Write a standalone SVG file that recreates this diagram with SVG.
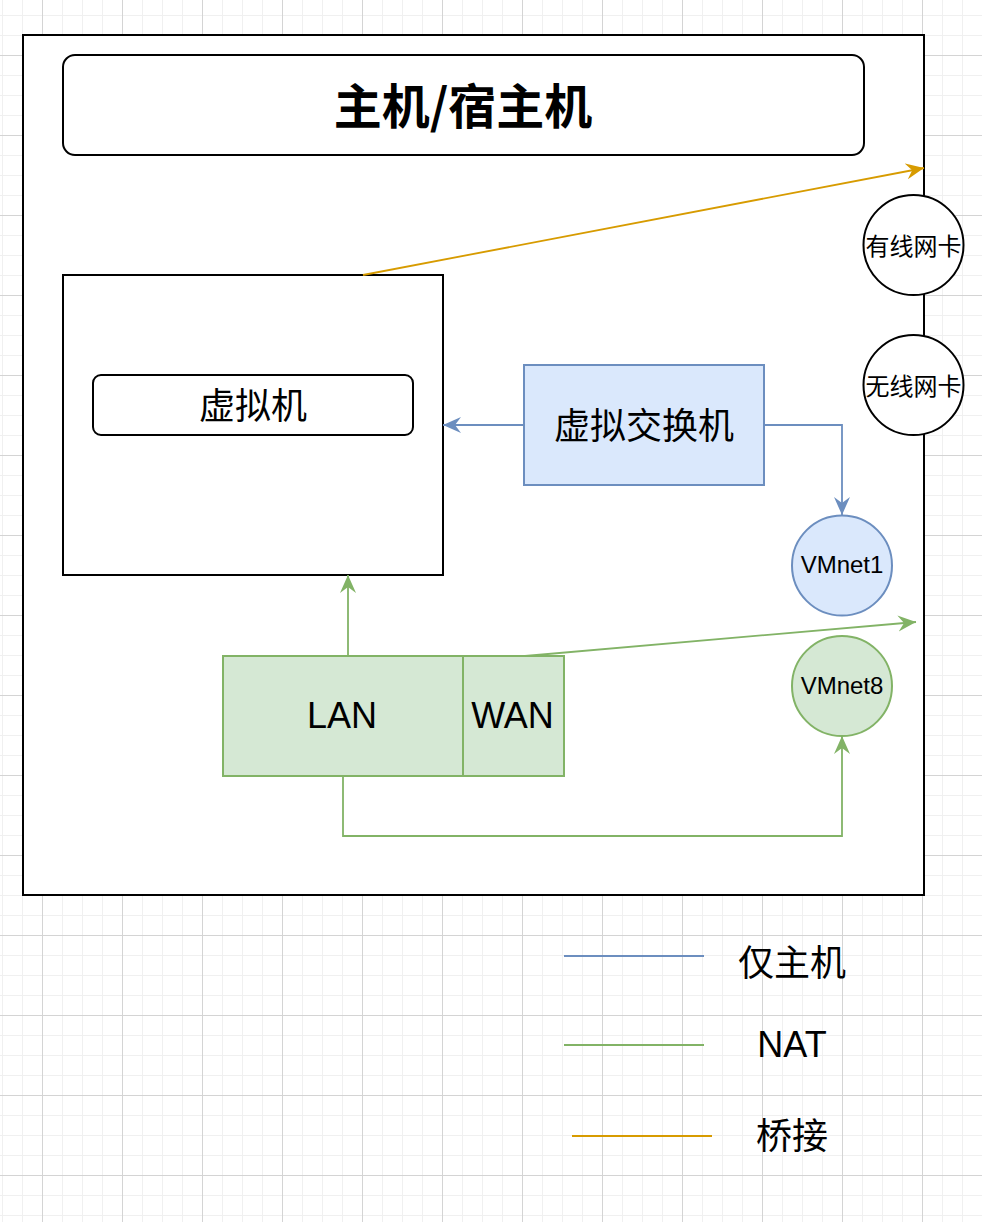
<svg xmlns="http://www.w3.org/2000/svg" width="982" height="1222" viewBox="0 0 982 1222">
<style>
.cjk{font-family:"Noto Sans CJK SC","Liberation Sans",sans-serif;fill:#000}
.lat{font-family:"Liberation Sans","Noto Sans CJK SC",sans-serif;fill:#000}
.blk{fill:#fff;stroke:#000;stroke-width:2}
.blue{fill:#dae8fc;stroke:#6c8ebf;stroke-width:2}
.green{fill:#d5e8d4;stroke:#82b366;stroke-width:2}
.cb{fill:none;stroke:#6c8ebf;stroke-width:1.8}
.cg{fill:none;stroke:#82b366;stroke-width:1.8}
.co{fill:none;stroke:#d79b00;stroke-width:1.8}
</style>
<defs>
<pattern id="grid" patternUnits="userSpaceOnUse" x="2" y="15" width="80" height="80">
<path d="M0.5 0V80M20.5 0V80M60.5 0V80M0 0.5H80M0 20.5H80M0 60.5H80" stroke="#f0f0f0" stroke-width="1" fill="none"/>
<path d="M40.5 0V80M0 40.5H80" stroke="#d4d4d4" stroke-width="1" fill="none"/>
</pattern>
<marker id="ab" markerUnits="userSpaceOnUse" viewBox="0 0 19 18" refX="18" refY="9" markerWidth="19" markerHeight="18" orient="auto"><path d="M18 9L0 1L6 9L0 17Z" fill="#6c8ebf"/></marker>
<marker id="ag" markerUnits="userSpaceOnUse" viewBox="0 0 19 18" refX="18" refY="9" markerWidth="19" markerHeight="18" orient="auto"><path d="M18 9L0 1L6 9L0 17Z" fill="#82b366"/></marker>
<marker id="ao" markerUnits="userSpaceOnUse" viewBox="0 0 19 18" refX="18" refY="9" markerWidth="19" markerHeight="18" orient="auto"><path d="M18 9L0 1L6 9L0 17Z" fill="#d79b00"/></marker>
</defs>
<rect width="982" height="1222" fill="#fff"/>
<rect width="982" height="1222" fill="url(#grid)"/>

<g id="host"><rect class="blk" x="23" y="35" width="901" height="860"/></g>
<g id="title"><rect class="blk" x="63" y="55" width="801" height="100" rx="12"/>
<text class="cjk" x="463" y="103" font-size="48" font-weight="bold" text-anchor="middle" dominant-baseline="central">主机/宿主机</text></g>
<g id="vm-box"><rect class="blk" x="63" y="275" width="380" height="300"/></g>
<g id="vm"><rect class="blk" x="93" y="375" width="320" height="60" rx="8"/>
<text class="cjk" x="253" y="403" font-size="36" text-anchor="middle" dominant-baseline="central">虚拟机</text></g>
<g id="vswitch"><rect class="blue" x="524" y="365" width="240" height="120"/>
<text class="cjk" x="644" y="423" font-size="36" text-anchor="middle" dominant-baseline="central">虚拟交换机</text></g>
<g id="nic-wired"><circle class="blk" cx="913.5" cy="245" r="50"/>
<text class="cjk" x="913.5" y="244" font-size="24" text-anchor="middle" dominant-baseline="central">有线网卡</text></g>
<g id="nic-wireless"><circle class="blk" cx="913.5" cy="385" r="50"/>
<text class="cjk" x="913.5" y="384" font-size="24" text-anchor="middle" dominant-baseline="central">无线网卡</text></g>
<g id="vmnet1"><circle class="blue" cx="842" cy="565.5" r="50"/>
<text class="lat" x="842" y="564.5" font-size="24" text-anchor="middle" dominant-baseline="central">VMnet1</text></g>
<g id="vmnet8"><circle class="green" cx="842" cy="686" r="50"/>
<text class="lat" x="842" y="685" font-size="24" text-anchor="middle" dominant-baseline="central">VMnet8</text></g>
<g id="lan"><rect class="green" x="223" y="656" width="240" height="120"/>
<text class="lat" x="342" y="715" font-size="36" text-anchor="middle" dominant-baseline="central">LAN</text></g>
<g id="wan"><rect class="green" x="463" y="656" width="101" height="120"/>
<text class="lat" x="512.5" y="715" font-size="36" text-anchor="middle" dominant-baseline="central">WAN</text></g>

<g id="connectors">
<path class="co" d="M363 275L924 168" marker-end="url(#ao)"/>
<path class="cb" d="M524 425H443" marker-end="url(#ab)"/>
<path class="cb" d="M764 425H842V515" marker-end="url(#ab)"/>
<path class="cg" d="M348 656V575" marker-end="url(#ag)"/>
<path class="cg" d="M525 656L916 622" marker-end="url(#ag)"/>
<path class="cg" d="M343 776V836H842V736" marker-end="url(#ag)"/>
</g>

<g id="legend">
<path class="cb" d="M564 956H704"/>
<text class="cjk" x="792" y="960" font-size="36" text-anchor="middle" dominant-baseline="central">仅主机</text>
<path class="cg" d="M564 1045H704"/>
<text class="lat" x="792" y="1044" font-size="36" text-anchor="middle" dominant-baseline="central">NAT</text>
<path class="co" d="M572 1136H712"/>
<text class="cjk" x="792" y="1133" font-size="36" text-anchor="middle" dominant-baseline="central">桥接</text>
</g>
</svg>
